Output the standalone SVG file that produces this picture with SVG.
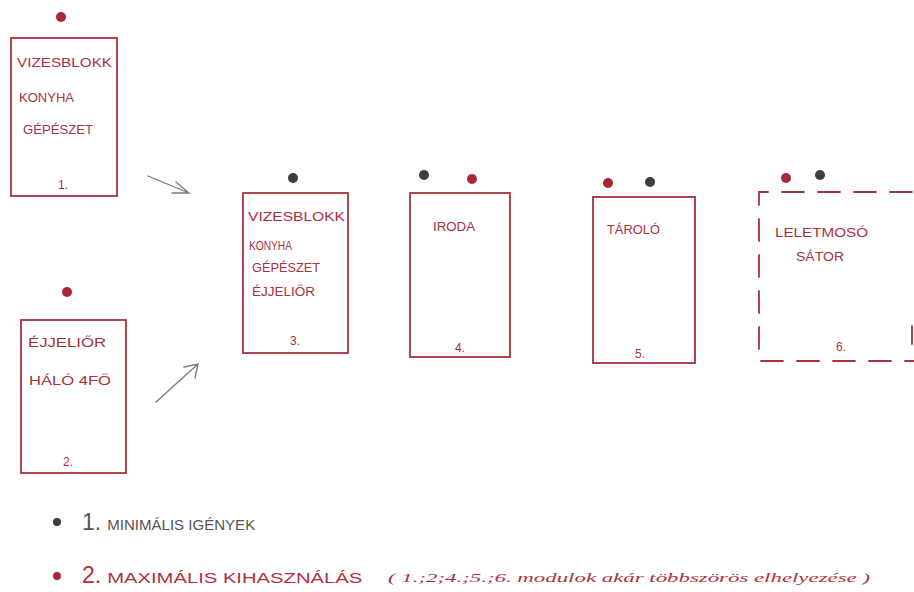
<svg xmlns="http://www.w3.org/2000/svg" width="914" height="592" viewBox="0 0 914 592">
<style>
.box{fill:none;stroke:#a8313f;stroke-width:1.8;stroke-linecap:round}
.dash{fill:none;stroke:#a8313f;stroke-width:1.8;stroke-dasharray:22 14;stroke-linecap:round}
.t{font-family:"Liberation Sans",Arial,sans-serif;font-size:12px;fill:#a8313f}
.n{font-family:"Liberation Sans",Arial,sans-serif;font-size:12px;fill:#a8313f;text-anchor:middle}
.red{fill:#a8283a}
.blk{fill:#3e3e3e}
.arr{fill:none;stroke:#7a7a7a;stroke-width:1.3;stroke-linecap:round}
.lg1{font-family:"Liberation Sans",Arial,sans-serif;font-size:15px;fill:#555}
.lg2{font-family:"Liberation Sans",Arial,sans-serif;font-size:15px;fill:#b0303e}
.big{font-size:23px}
.sm{font-family:"Liberation Serif",serif;font-size:13px;font-style:italic;fill:#b0303e}
</style>
<rect width="914" height="592" fill="#ffffff"/>
<g id="module1">
<circle class="red" cx="61" cy="17" r="5"/>
<rect class="box" x="11" y="38" width="106" height="158"/>
<text class="t" x="17" y="67" textLength="95" lengthAdjust="spacingAndGlyphs">VIZESBLOKK</text>
<text class="t" x="19" y="102" textLength="55" lengthAdjust="spacingAndGlyphs">KONYHA</text>
<text class="t" x="23" y="134" textLength="70" lengthAdjust="spacingAndGlyphs">GÉPÉSZET</text>
<text class="n" x="63" y="189">1.</text>
</g>
<g id="module2">
<circle class="red" cx="67" cy="292" r="5"/>
<rect class="box" x="21" y="320" width="105" height="153"/>
<text class="t" x="28" y="347" textLength="78" lengthAdjust="spacingAndGlyphs">ÉJJELIŐR</text>
<text class="t" x="29" y="385" textLength="82" lengthAdjust="spacingAndGlyphs">HÁLÓ 4FŐ</text>
<text class="n" x="68" y="466">2.</text>
</g>
<g id="module3">
<circle class="blk" cx="293" cy="178" r="5"/>
<rect class="box" x="243" y="193" width="105" height="160"/>
<text class="t" x="248" y="221" textLength="97" lengthAdjust="spacingAndGlyphs">VIZESBLOKK</text>
<text class="t" x="249" y="250" textLength="43" lengthAdjust="spacingAndGlyphs">KONYHA</text>
<text class="t" x="252" y="272" textLength="68" lengthAdjust="spacingAndGlyphs">GÉPÉSZET</text>
<text class="t" x="252" y="296" textLength="63" lengthAdjust="spacingAndGlyphs">ÉJJELIŐR</text>
<text class="n" x="295" y="345">3.</text>
</g>
<g id="module4">
<circle class="blk" cx="424" cy="175" r="5"/>
<circle class="red" cx="472" cy="179" r="5"/>
<rect class="box" x="410" y="193" width="100" height="164"/>
<text class="t" x="433" y="231" textLength="42" lengthAdjust="spacingAndGlyphs">IRODA</text>
<text class="n" x="460" y="352">4.</text>
</g>
<g id="module5">
<circle class="red" cx="608" cy="183" r="5"/>
<circle class="blk" cx="650" cy="182" r="5"/>
<rect class="box" x="593" y="197" width="102" height="166"/>
<text class="t" x="607" y="234" textLength="53" lengthAdjust="spacingAndGlyphs">TÁROLÓ</text>
<text class="n" x="640" y="358">5.</text>
</g>
<g id="module6">
<circle class="red" cx="786" cy="178" r="5"/>
<circle class="blk" cx="820" cy="175" r="5"/>
<path class="dash" d="M912 192 H759 V361 H914"/>
<line class="box" x1="912" y1="326" x2="912" y2="344"/>
<text class="t" x="775" y="237" textLength="93" lengthAdjust="spacingAndGlyphs">LELETMOSÓ</text>
<text class="t" x="796" y="261" textLength="48" lengthAdjust="spacingAndGlyphs">SÁTOR</text>
<text class="n" x="841" y="351">6.</text>
</g>
<g id="connectors">
<path class="arr" d="M148 176 L189 193 M176 182 L189 193 L172 193"/>
<path class="arr" d="M156 402 L198 364 M184 367 L198 364 L195 378"/>
</g>
<g id="legend">
<circle class="blk" cx="57" cy="522" r="4"/>
<text class="lg1" x="82" y="530"><tspan class="big">1.</tspan><tspan dx="6" textLength="148" lengthAdjust="spacingAndGlyphs">MINIMÁLIS IGÉNYEK</tspan></text>
<circle class="red" cx="57" cy="576" r="4"/>
<text class="lg2" x="82" y="583"><tspan class="big">2.</tspan><tspan dx="6" textLength="255" lengthAdjust="spacingAndGlyphs">MAXIMÁLIS KIHASZNÁLÁS</tspan></text>
<text class="sm" x="388" y="582" textLength="482" lengthAdjust="spacingAndGlyphs">( 1.;2;4.;5.;6. modulok  akár  többszörös  elhelyezése )</text>
</g>
</svg>
